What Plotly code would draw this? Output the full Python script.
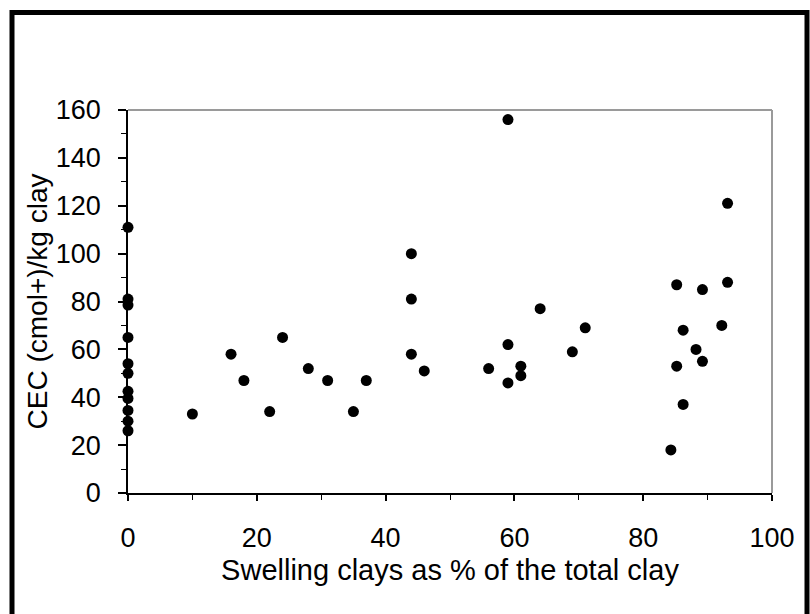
import plotly.graph_objects as go

# Swelling clays as % of total clay (x) and CEC (cmol+)/kg clay (y)
swelling_pct = [0, 0, 0, 0, 0, 0, 0, 0, 0, 0, 0,
                10, 16, 18, 22, 24, 28, 31, 35, 37,
                44, 44, 44, 46,
                56, 59, 59, 59, 61, 61, 64, 69, 71,
                84.3, 85.2, 85.2, 86.2, 86.2, 88.2, 89.2, 89.2, 92.2, 93.1, 93.1]
cec = [111, 81, 78.5, 65, 54, 50, 42.5, 39.5, 34.5, 30, 26,
       33, 58, 47, 34, 65, 52, 47, 34, 47,
       100, 81, 58, 51,
       52, 156, 62, 46, 53, 49, 77, 59, 69,
       18, 87, 53, 68, 37, 60, 85, 55, 70, 121, 88]

x_ticks = [0, 20, 40, 60, 80, 100]
y_ticks = [0, 20, 40, 60, 80, 100, 120, 140, 160]

FONT = "Liberation Sans, Arial, sans-serif"

fig = go.Figure()
fig.add_trace(go.Scatter(
    x=swelling_pct, y=cec, mode="markers",
    marker=dict(color="black", size=11, line=dict(width=0)),
    cliponaxis=False, showlegend=False, hoverinfo="x+y",
))

fig.update_layout(
    width=810, height=614,
    margin=dict(l=128, r=38, t=110, b=121),
    paper_bgcolor="white", plot_bgcolor="white",
    font=dict(family=FONT, size=27, color="black"),
    xaxis=dict(
        range=[0, 100], tickvals=x_ticks, showgrid=False, zeroline=False,
        showline=True, linecolor="black", linewidth=1.5,
        ticks="outside", ticklen=6, tickwidth=1.5, tickcolor="black",
        minor=dict(dtick=10, ticks="outside", ticklen=5, tickcolor="black", tickwidth=1.2),
        ticklabelstandoff=14,
        title=dict(text="Swelling clays as % of the total clay", standoff=8,
                   font=dict(size=29)),
        tickfont=dict(size=27),
    ),
    yaxis=dict(
        range=[0, 160], tickvals=y_ticks, showgrid=False, zeroline=False,
        showline=True, linecolor="black", linewidth=1.5,
        ticks="outside", ticklen=8, tickwidth=1.5, tickcolor="black",
        minor=dict(dtick=10, ticks="outside", ticklen=5, tickcolor="black", tickwidth=1.2),
        ticklabelstandoff=12,
        title=dict(text="CEC (cmol+)/kg clay", standoff=0, font=dict(size=28)),
        tickfont=dict(size=27),
    ),
    shapes=[
        # grey top and right edges of plot area
        dict(type="line", xref="paper", yref="paper", x0=0, x1=1, y0=1, y1=1,
             line=dict(color="#9a9a9a", width=2)),
        dict(type="line", xref="paper", yref="paper", x0=1, x1=1, y0=0, y1=1,
             line=dict(color="#9a9a9a", width=2)),
        # thick outer frame
        dict(type="rect", xref="paper", yref="paper",
             x0=(12 - 128) / 644, x1=(807 - 128) / 644,
             y0=(493 - 640) / 383, y1=(493 - 12.5) / 383,
             line=dict(color="black", width=5), layer="above"),
    ],
)

fig.write_html("out.html")
